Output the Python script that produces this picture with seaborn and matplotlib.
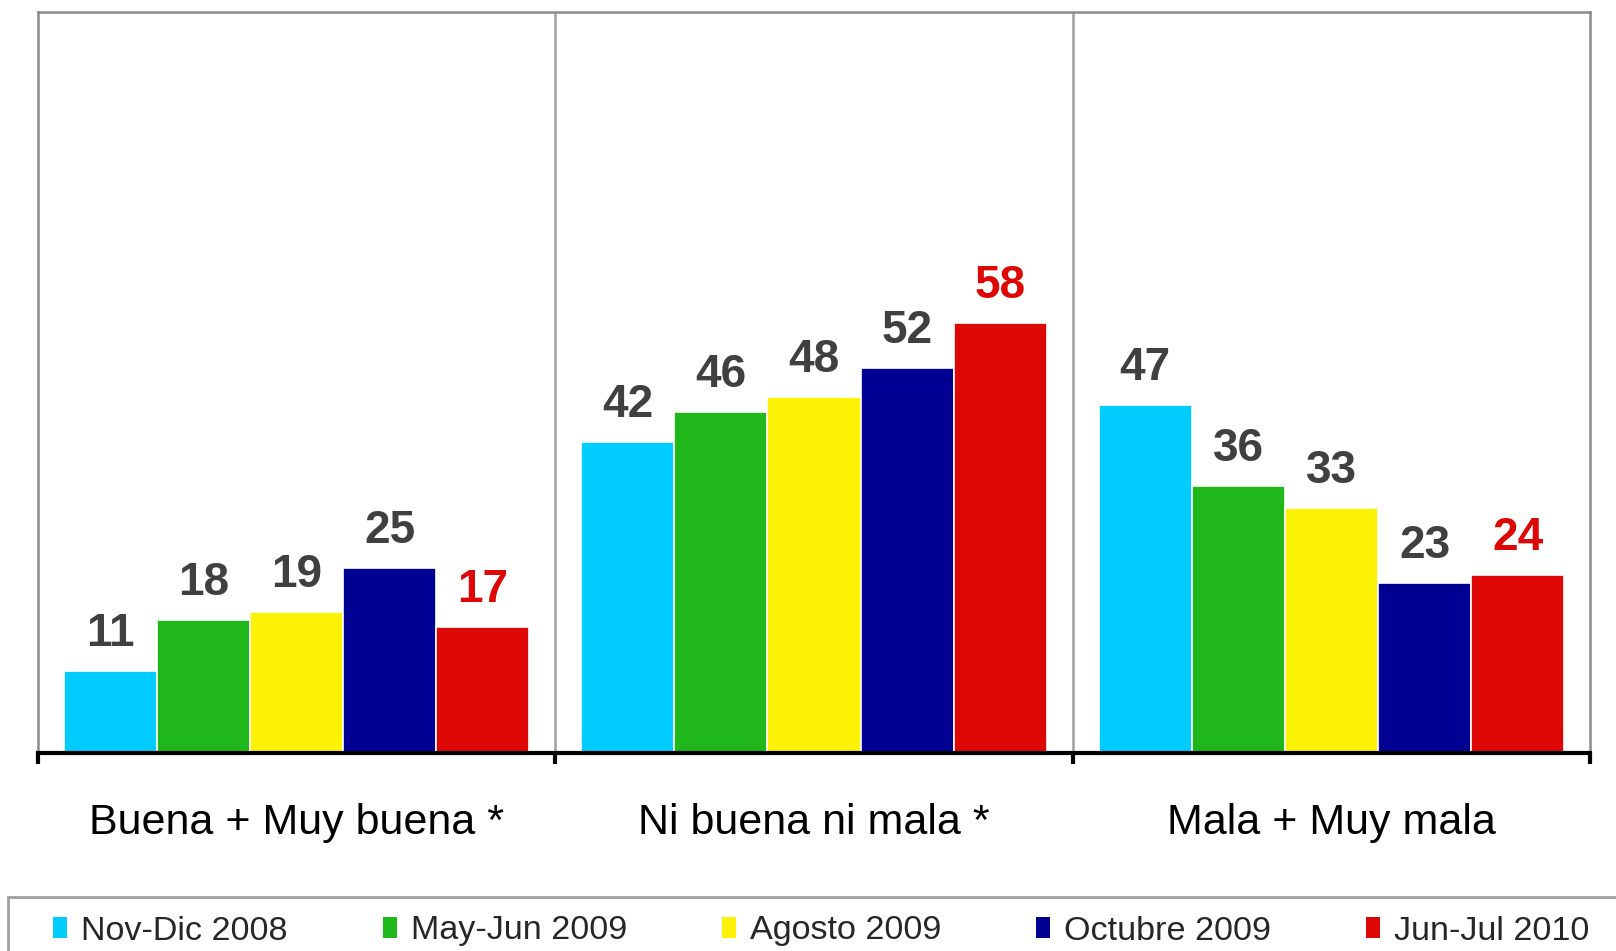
import matplotlib
matplotlib.use("Agg")
import matplotlib.pyplot as plt
from matplotlib.patches import Rectangle
import seaborn as sns
import pandas as pd

categories = ["Buena + Muy buena *", "Ni buena ni mala *", "Mala + Muy mala"]
series = ["Nov-Dic 2008", "May-Jun 2009", "Agosto 2009", "Octubre 2009", "Jun-Jul 2010"]
values_nov_dic_2008 = [11, 42, 47]
values_may_jun_2009 = [18, 46, 36]
values_agosto_2009 = [19, 48, 33]
values_octubre_2009 = [25, 52, 23]
values_jun_jul_2010 = [17, 58, 24]
colors = ["#00CCFF", "#1FB71A", "#FCF205", "#000093", "#DD0806"]
label_colors = ["#404040", "#404040", "#404040", "#404040", "#DD0806"]

all_values = [values_nov_dic_2008, values_may_jun_2009, values_agosto_2009,
              values_octubre_2009, values_jun_jul_2010]
rows = []
for s, vals in zip(series, all_values):
    for c, v in zip(categories, vals):
        rows.append({"categoria": c, "periodo": s, "valor": v})
df = pd.DataFrame(rows)

sns.set_theme(style="white")
plt.rcParams["font.family"] = ["Liberation Sans", "DejaVu Sans"]

fig = plt.figure(figsize=(16.16, 9.51), dpi=100)
ax = fig.add_axes([38 / 1616, 1 - 753 / 951, (1590 - 38) / 1616, (753 - 12) / 951])

sns.barplot(data=df, x="categoria", y="valor", hue="periodo", order=categories,
            hue_order=series, palette=colors, width=0.9, saturation=1,
            edgecolor="white", linewidth=1.2, ax=ax, legend=False)

ax.set_ylim(0, 100)
ax.set_xlim(-0.5, 2.5)

for i, cont in enumerate(ax.containers):
    for bar in cont:
        h = bar.get_height()
        ax.annotate(f"{int(round(h))}", (bar.get_x() + bar.get_width() / 2, h),
                    xytext=(0, 18), textcoords="offset points", ha="center",
                    va="baseline", fontsize=33, fontweight="bold",
                    color=label_colors[i])

# frame
for side in ["left", "top", "right"]:
    ax.spines[side].set_color("#8c8c8c")
    ax.spines[side].set_linewidth(1.8)
ax.spines["bottom"].set_color("black")
ax.spines["bottom"].set_linewidth(3)
for xd in [0.5, 1.5]:
    ax.axvline(xd, color="#a0a0a0", lw=1.8, zorder=0)

ax.set_yticks([])
ax.set_xticks([-0.5, 0.5, 1.5, 2.5])
ax.set_xticklabels([])
ax.tick_params(axis="x", direction="out", length=8, width=3, color="black", bottom=True)
ax.set_xlabel("")
ax.set_ylabel("")

for j, c in enumerate(categories):
    ax.text(j, -9.5, c, ha="center", va="center", fontsize=31, color="black",
            transform=ax.transData, clip_on=False)

# legend box
fig.patches.append(Rectangle((8 / 1616, -0.1), 1.1, 0.1 + 1 - 897 / 951,
                             transform=fig.transFigure, fill=False,
                             edgecolor="#a0a0a0", lw=2))
handles = [Rectangle((0, 0), 1, 1, facecolor=col, edgecolor="none") for col in colors]
fig.legend(handles, series, loc="center left", bbox_to_anchor=(53 / 1616, 1 - 931 / 951),
           ncol=5, frameon=False, fontsize=24.6, handlelength=0.42, handleheight=0.6,
           handletextpad=0.4, columnspacing=2.78, borderaxespad=0, borderpad=0)

fig.savefig("out.png", dpi=100)
